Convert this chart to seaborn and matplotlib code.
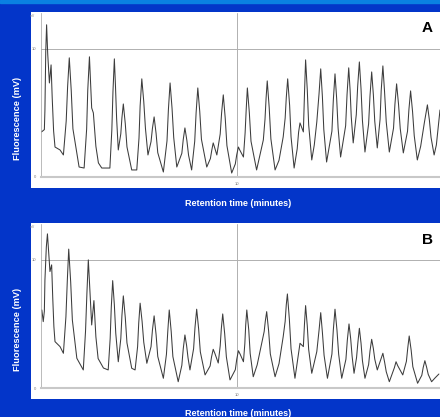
import matplotlib
matplotlib.use("Agg")
import matplotlib.pyplot as plt
from matplotlib.patches import Rectangle
from matplotlib.ticker import MultipleLocator
import seaborn as sns
import pandas as pd

# trace vertices: (retention time in minutes, mV)
trace_a = [
    (3.02, 3.52), (3.12, 3.70), (3.14, 5.20), (3.17, 9.80), (3.20, 11.88), (3.24, 9.60),
    (3.30, 7.34), (3.36, 8.75), (3.40, 6.20), (3.45, 3.60), (3.50, 2.34), (3.68, 2.11),
    (3.80, 1.72), (3.90, 4.37), (3.95, 7.03), (4.01, 9.30), (4.08, 6.74), (4.14, 3.76),
    (4.36, 0.78), (4.54, 0.70), (4.63, 3.74), (4.67, 6.78), (4.73, 9.38), (4.81, 5.39),
    (4.87, 5.00), (4.96, 2.40), (5.05, 1.10), (5.17, 0.70), (5.46, 0.70), (5.53, 3.68),
    (5.57, 6.66), (5.62, 9.22), (5.66, 7.09), (5.70, 4.60), (5.76, 2.11), (5.85, 3.37),
    (5.89, 4.62), (5.94, 5.70), (6.01, 4.16), (6.07, 2.35), (6.24, 0.55), (6.42, 0.55),
    (6.50, 3.04), (6.54, 5.53), (6.60, 7.66), (6.67, 5.88), (6.73, 3.80), (6.82, 1.72),
    (6.93, 2.76), (6.98, 3.80), (7.04, 4.69), (7.11, 3.40), (7.17, 1.90), (7.37, 0.39),
    (7.50, 2.82), (7.55, 5.26), (7.61, 7.34), (7.68, 5.37), (7.74, 3.08), (7.85, 0.78),
    (8.03, 1.85), (8.08, 2.92), (8.14, 3.83), (8.21, 2.85), (8.27, 1.70), (8.38, 0.55),
    (8.49, 2.79), (8.54, 5.03), (8.60, 6.95), (8.67, 5.10), (8.73, 2.94), (8.92, 0.78),
    (9.05, 1.44), (9.10, 2.10), (9.15, 2.66), (9.19, 2.38), (9.28, 1.72), (9.40, 3.36),
    (9.45, 5.00), (9.51, 6.41), (9.58, 4.58), (9.64, 2.45), (9.81, 0.31), (9.94, 1.02),
    (9.99, 1.73), (10.05, 2.34), (10.10, 2.10), (10.23, 1.56), (10.29, 3.45), (10.33, 5.33),
    (10.37, 6.95), (10.44, 5.03), (10.50, 2.79), (10.70, 0.55), (10.94, 2.89), (11.00, 4.50),
    (11.04, 6.20), (11.08, 7.50), (11.15, 5.42), (11.21, 2.98), (11.36, 0.55), (11.50, 1.30),
    (11.65, 3.13), (11.72, 4.60), (11.76, 6.20), (11.81, 7.66), (11.88, 5.57), (11.93, 3.14),
    (12.04, 0.70), (12.15, 2.20), (12.20, 3.50), (12.25, 4.22), (12.37, 3.52), (12.41, 6.50),
    (12.45, 9.14), (12.51, 6.80), (12.56, 4.06), (12.67, 1.33), (12.76, 2.50), (12.85, 4.30),
    (12.93, 6.50), (12.99, 8.44), (13.05, 6.26), (13.10, 3.71), (13.20, 1.17), (13.39, 3.58),
    (13.44, 5.99), (13.50, 8.05), (13.56, 6.10), (13.61, 3.83), (13.70, 1.56), (13.88, 4.00),
    (13.93, 6.43), (13.99, 8.52), (14.04, 6.76), (14.08, 4.71), (14.15, 2.66), (14.26, 4.87),
    (14.31, 7.08), (14.37, 8.98), (14.43, 6.87), (14.48, 4.40), (14.57, 1.95), (14.70, 4.14),
    (14.75, 6.33), (14.81, 8.20), (14.87, 6.42), (14.92, 4.35), (15.01, 2.27), (15.11, 4.51),
    (15.15, 6.75), (15.21, 8.67), (15.27, 6.65), (15.33, 4.30), (15.44, 1.95), (15.59, 3.81),
    (15.64, 5.67), (15.70, 7.27), (15.77, 5.65), (15.83, 3.77), (15.94, 1.88), (16.09, 3.57),
    (16.14, 5.27), (16.20, 6.72), (16.27, 5.10), (16.33, 3.22), (16.44, 1.33), (16.56, 2.40),
    (16.69, 4.22), (16.80, 5.63), (16.87, 4.46), (16.93, 3.09), (17.04, 1.72), (17.12, 2.50),
    (17.25, 5.23),
]

trace_b = [
    (3.03, 6.09), (3.08, 5.18), (3.12, 6.00), (3.14, 8.40), (3.19, 11.00), (3.23, 12.03),
    (3.32, 9.09), (3.38, 9.61), (3.42, 7.00), (3.46, 4.80), (3.50, 3.62), (3.68, 3.23),
    (3.80, 2.71), (3.89, 5.56), (3.94, 8.40), (3.99, 10.84), (4.06, 8.28), (4.12, 5.30),
    (4.28, 2.32), (4.51, 1.41), (4.59, 4.42), (4.64, 7.42), (4.69, 10.00), (4.81, 4.92),
    (4.89, 6.82), (4.96, 4.00), (5.04, 2.30), (5.23, 1.56), (5.40, 1.41), (5.47, 3.85),
    (5.51, 6.29), (5.56, 8.38), (5.62, 6.48), (5.67, 4.27), (5.76, 2.05), (5.85, 3.85),
    (5.89, 5.65), (5.94, 7.19), (6.01, 5.50), (6.07, 3.52), (6.24, 1.54), (6.36, 1.41),
    (6.45, 3.23), (6.49, 5.06), (6.54, 6.62), (6.61, 5.21), (6.67, 3.57), (6.78, 1.93),
    (6.93, 3.23), (6.98, 4.52), (7.04, 5.63), (7.11, 4.17), (7.17, 2.46), (7.37, 0.76),
    (7.48, 2.63), (7.53, 4.49), (7.58, 6.09), (7.65, 4.41), (7.71, 2.45), (7.90, 0.49),
    (8.03, 1.77), (8.08, 3.05), (8.14, 4.14), (8.20, 3.32), (8.25, 2.37), (8.32, 1.41),
    (8.45, 3.07), (8.50, 4.73), (8.56, 6.15), (8.63, 4.61), (8.69, 2.82), (8.86, 1.02),
    (9.04, 1.72), (9.09, 2.42), (9.15, 3.02), (9.21, 2.70), (9.33, 1.95), (9.40, 3.29),
    (9.44, 4.63), (9.49, 5.78), (9.56, 4.24), (9.62, 2.43), (9.75, 0.63), (9.94, 1.43),
    (9.99, 2.23), (10.05, 2.91), (10.11, 2.65), (10.23, 2.05), (10.28, 3.46), (10.31, 4.88),
    (10.35, 6.09), (10.42, 4.53), (10.47, 2.70), (10.58, 0.88), (10.72, 1.80), (10.88, 3.49),
    (10.97, 4.40), (11.01, 5.20), (11.06, 5.96), (11.13, 4.44), (11.19, 2.66), (11.36, 0.88),
    (11.50, 1.90), (11.65, 4.01), (11.72, 5.20), (11.76, 6.50), (11.80, 7.34), (11.87, 5.37),
    (11.93, 3.06), (12.07, 0.76), (12.17, 2.30), (12.25, 3.49), (12.37, 3.23), (12.41, 5.00),
    (12.45, 6.43), (12.51, 4.85), (12.56, 3.00), (12.67, 1.15), (12.76, 2.00), (12.85, 2.84),
    (12.93, 4.50), (12.99, 5.88), (13.05, 4.34), (13.11, 2.55), (13.23, 0.76), (13.39, 2.65),
    (13.44, 4.53), (13.50, 6.15), (13.57, 4.53), (13.63, 2.65), (13.74, 0.76), (13.89, 2.24),
    (13.94, 3.73), (14.00, 5.00), (14.06, 3.85), (14.11, 2.50), (14.18, 1.15), (14.27, 2.38),
    (14.32, 3.61), (14.37, 4.66), (14.43, 3.49), (14.48, 2.13), (14.57, 0.76), (14.70, 1.82),
    (14.75, 2.89), (14.81, 3.80), (14.87, 3.08), (14.92, 2.25), (15.01, 1.41), (15.15, 2.32),
    (15.21, 2.71), (15.27, 2.04), (15.33, 1.27), (15.44, 0.49), (15.62, 1.58), (15.68, 2.05),
    (15.74, 1.74), (15.92, 1.02), (16.05, 2.08), (16.10, 3.15), (16.15, 4.06), (16.22, 2.95),
    (16.28, 1.66), (16.45, 0.37), (16.60, 0.99), (16.65, 1.60), (16.71, 2.13), (16.77, 1.64),
    (16.83, 1.06), (16.95, 0.49), (17.07, 0.78), (17.21, 1.09),
]

panel_labels = ["A", "B"]
x_title = "Retention time (minutes)"
y_title = "Fluorescence (mV)"

BLUE = "#0335c9"
STRIP = "#0a80e2"
W, H = 440, 417

sns.set_style("white")
plt.rcParams["font.family"] = ["Liberation Sans", "DejaVu Sans"]

fig = plt.figure(figsize=(W / 100, H / 100), dpi=100)
fig.patch.set_facecolor(BLUE)
fig.add_artist(Rectangle((0, 1 - 3 / H), 1, 3 / H, transform=fig.transFigure,
                         color=STRIP, zorder=0))


def fx(px):
    return px / W


def fy(py):
    return 1 - py / H


panels = [(trace_a, 12), (trace_b, 223)]
for (trace, top), label in zip(panels, panel_labels):
    # white card behind each chart
    fig.add_artist(Rectangle((fx(31), fy(top + 176)), fx(409), 176 / H,
                             transform=fig.transFigure, facecolor="white",
                             edgecolor="none", zorder=0))
    ax = fig.add_axes([fx(41), fy(top + 165), fx(399), 164 / H])
    df = pd.DataFrame(trace, columns=["time", "mv"])
    sns.lineplot(data=df, x="time", y="mv", ax=ax, color="#3c3c3c", lw=0.75,
                 estimator=None, sort=False)
    ax.set_xlim(3, 17.25)
    ax.set_ylim(0, 12.8)
    ax.set_xlabel("")
    ax.set_ylabel("")
    ax.xaxis.set_major_locator(MultipleLocator(10))
    ax.xaxis.set_minor_locator(MultipleLocator(1))
    ax.yaxis.set_major_locator(MultipleLocator(10))
    ax.yaxis.set_minor_locator(MultipleLocator(1))
    ax.tick_params(which="both", direction="out", length=2.5, width=0.5,
                   color="#a0a0a0", labelsize=3, labelcolor="#777777", pad=1)
    ax.grid(which="major", color="#b0b0b0", lw=0.7)
    for side in ["top", "right"]:
        ax.spines[side].set_visible(False)
    ax.spines["left"].set_color("#a0a0a0")
    ax.spines["left"].set_linewidth(0.5)
    ax.spines["bottom"].set_color("#c8c8c8")
    ax.spines["bottom"].set_linewidth(1.5)
    ax.text(-0.015, 0.98, "mV", transform=ax.transAxes, fontsize=2.5,
            color="#888888", ha="right", va="center")

    fig.text(fx(427.5), fy(top + 16.5), label, fontsize=11, fontweight="bold",
             color="black", ha="center", va="center")
    fig.text(fx(17.5), fy(top + 106), y_title, rotation=90, fontsize=6.7,
             fontweight="bold", color="white", ha="center", va="center")
    fig.text(fx(238), fy(top + 191), x_title, fontsize=6.5,
             fontweight="bold", color="white", ha="center", va="center")

fig.savefig("out.png", dpi=100, facecolor=BLUE)
